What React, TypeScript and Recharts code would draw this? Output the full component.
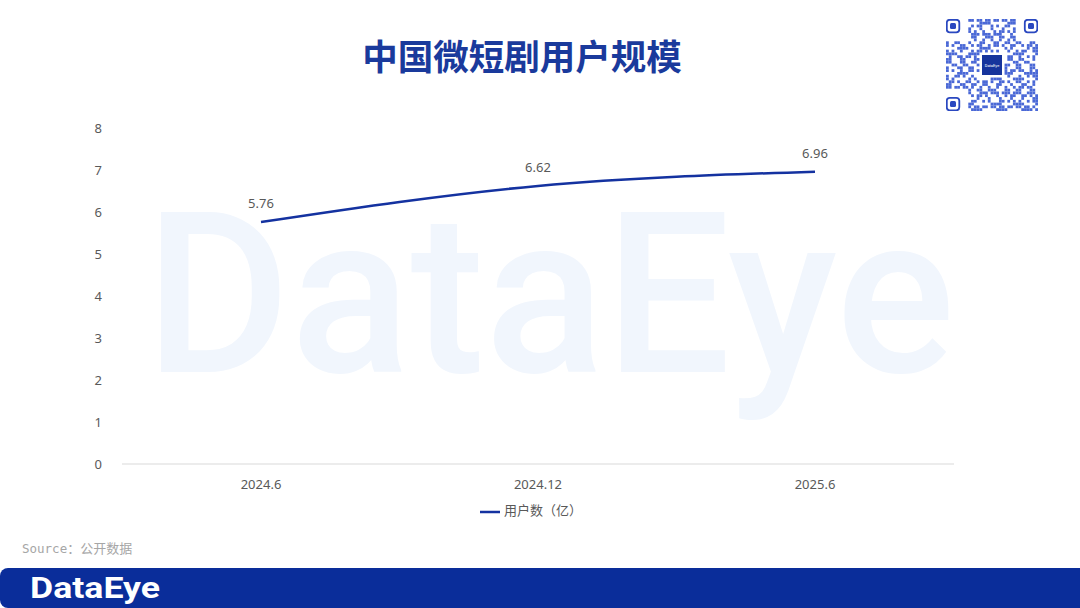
import { LineChart, Line, XAxis, YAxis, Legend, LabelList } from 'recharts';

const periods = ['2024.6', '2024.12', '2025.6'];
const users = [5.76, 6.62, 6.96];
const yTicks = [0, 1, 2, 3, 4, 5, 6, 7, 8];

const data = periods.map((p, i) => ({ period: p, users: users[i] }));

const font = '"Noto Sans", "Noto Sans CJK SC", sans-serif';
const blue = '#1432a0';

// deterministic QR-ish pattern for the decoration in the corner
const qrCells = () => {
  const n = 33;
  const cells: JSX.Element[] = [];
  const cell = 92 / n;
  for (let r = 0; r < n; r++) {
    for (let c = 0; c < n; c++) {
      const inFinder =
        (r < 8 && c < 8) || (r < 8 && c >= n - 8) || (r >= n - 8 && c < 8);
      const inCenter = r >= 12 && r <= 20 && c >= 12 && c <= 20;
      if (inFinder || inCenter) continue;
      const h = (r * 37 + c * 91 + r * c * 13 + ((r ^ c) * 5)) % 9;
      if (h < 4) {
        cells.push(
          <rect key={r + '-' + c} x={c * cell} y={r * cell} width={cell} height={cell} fill="#4a68d6" />
        );
      }
    }
  }
  return cells;
};

const Finder = ({ x, y }: { x: number; y: number }) => (
  <g transform={`translate(${x},${y})`}>
    <rect x={0.8} y={0.8} width={12.5} height={12.5} rx={3} fill="none" stroke="#2a48c0" strokeWidth={1.8} />
    <rect x={4} y={4} width={6} height={6} rx={1.5} fill="#2a48c0" />
  </g>
);

const App = () => {
  return (
    <div style={{ position: 'relative', width: 1080, height: 608, background: '#fff', overflow: 'hidden', fontFamily: font }}>
      <style>{'body{margin:0}'}</style>

      {/* watermark */}
      <svg width={1080} height={608} style={{ position: 'absolute', left: 0, top: 0 }}>
        <text
          x={145}
          y={372}
          textLength={810}
          lengthAdjust="spacingAndGlyphs"
          fontSize={225}
          fontWeight={500}
          fontFamily="Roboto, sans-serif"
          fill="#f1f6fd"
        >
          DataEye
        </text>
      </svg>

      <div
        style={{
          position: 'absolute',
          top: 32,
          left: 0,
          width: 1044,
          textAlign: 'center',
          fontSize: 35.5,
          fontWeight: 700,
          color: '#1a3a9c',
          fontFamily: '"Noto Sans CJK SC", sans-serif',
          lineHeight: '46px',
        }}
      >
        中国微短剧用户规模
      </div>

      {/* QR code decoration */}
      <svg width={92} height={92} style={{ position: 'absolute', left: 946, top: 19 }}>
        {qrCells()}
        <Finder x={0} y={0} />
        <Finder x={78} y={0} />
        <Finder x={0} y={78} />
        <rect x={36} y={36} width={20} height={20} fill="#16349c" />
        <text x={46} y={48} fontSize={4} fill="#fff" textAnchor="middle" fontFamily="Roboto">DataEye</text>
      </svg>

      <div style={{ position: 'absolute', left: 0, top: 0 }}>
        <LineChart width={1080} height={608} data={data} margin={{ top: 128, right: 126, left: 0, bottom: 114 }}>
          <XAxis
            dataKey="period"
            height={30}
            padding={{ left: 139, right: 139 }}
            axisLine={{ stroke: '#d9d9d9' }}
            tickLine={false}
            tick={{ fill: '#595959', fontSize: 13, fontFamily: font }}
            tickMargin={10}
          />
          <YAxis
            width={122}
            domain={[0, 8]}
            ticks={yTicks}
            axisLine={false}
            tickLine={false}
            tick={{ fill: '#595959', fontSize: 13, fontFamily: font }}
            tickMargin={8}
            dx={-6}
          />
          <Legend
            verticalAlign="middle"
            align="center"
            iconType="plainline"
            iconSize={20}
            wrapperStyle={{ top: 500, left: 0, width: 1072, fontSize: 13, fontFamily: font }}
            formatter={(v) => <span style={{ color: '#595959' }}>{v}</span>}
          />
          <Line
            name="用户数（亿）"
            type="monotone"
            dataKey="users"
            stroke={blue}
            strokeWidth={2.5}
            dot={false}
            activeDot={false}
            isAnimationActive={false}
          >
            <LabelList dataKey="users" position="top" offset={14} fill="#595959" fontSize={13} fontFamily={font} />
          </Line>
        </LineChart>
      </div>

      <div
        style={{
          position: 'absolute',
          left: 22,
          top: 538,
          fontSize: 13,
          color: '#a6a6a6',
          lineHeight: '20px',
        }}
      >
        <span style={{ fontFamily: '"DejaVu Sans Mono", monospace', fontSize: 12.5 }}>Source</span>
        <span style={{ fontFamily: '"Noto Sans CJK SC", sans-serif' }}>：公开数据</span>
      </div>

      <div
        style={{
          position: 'absolute',
          left: 0,
          top: 568,
          width: 1080,
          height: 40,
          background: '#0a2d9a',
          borderTopLeftRadius: 8,
          borderBottomLeftRadius: 8,
        }}
      >
        <svg width={200} height={40} style={{ position: 'absolute', left: 0, top: 0 }}>
          <text
            x={30}
            y={30}
            textLength={130}
            lengthAdjust="spacingAndGlyphs"
            fontSize={30}
            fontWeight={700}
            fontFamily="Roboto, sans-serif"
            fill="#fff"
          >
            DataEye
          </text>
        </svg>
      </div>
    </div>
  );
};

export default App;
